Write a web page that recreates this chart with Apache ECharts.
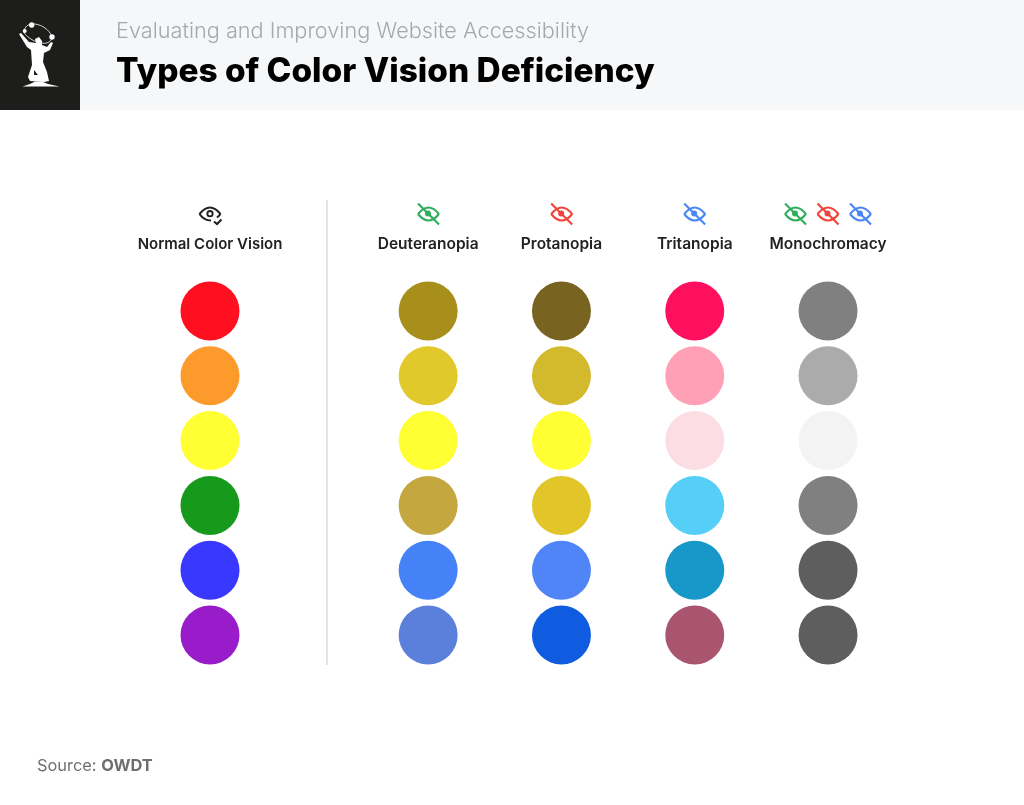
<!DOCTYPE html>
<html lang="en">
<head>
  <meta charset="UTF-8" />
  <title>Types of Color Vision Deficiency</title>
  <script src="https://cdn.jsdelivr.net/npm/echarts@6/dist/echarts.min.js"></script>
  <style>
    html, body { margin: 0; padding: 0; background: #fff; }
  </style>
</head>
<body>
  <div id="main" style="width: 1024px; height: 805px;"></div>
  <script type="text/javascript">
    // Table contents
    let normalName = ['Normal Color Vision'];
    let deficiencyNames = ['Deuteranopia', 'Protanopia', 'Tritanopia', 'Monochromacy'];
    let rowNames = ['Red', 'Orange', 'Yellow', 'Green', 'Blue', 'Purple'];

    let normalColors = ['#ff0f1f', '#fd9a2c', '#ffff33', '#17991c', '#3838ff', '#991ccb'];
    let deuteranopiaColors = ['#a88f1b', '#e2c92b', '#ffff33', '#c4a73f', '#4682f7', '#5a80dc'];
    let protanopiaColors = ['#786420', '#d2ba2c', '#ffff33', '#e2c629', '#5085f7', '#0f5ce0'];
    let tritanopiaColors = ['#ff105f', '#ffa0b6', '#fddde4', '#55cef8', '#1798c8', '#aa5570'];
    let monochromacyColors = ['#808080', '#ababab', '#f3f3f3', '#808080', '#5e5e5e', '#5e5e5e'];

    let GREEN = '#2fae5c', RED = '#f0443c', BLUE = '#4a86f5', DARK = '#222222';
    let DOT_SIZE = 59;

    function circleData(colIdx, colors) {
      return colors.map(function (c, i) {
        return { value: [colIdx, i], itemStyle: { color: c, opacity: 1 } };
      });
    }

    // one lens half, as a curve between the two eye corners
    function lid(bend, color) {
      return {
        type: 'bezierCurve',
        shape: { x1: -10.5, y1: 0, x2: 10.5, y2: 0, cpx1: 0, cpy1: bend },
        style: { fill: 'none', stroke: color, lineWidth: 2.1 }
      };
    }

    function eye(cx, cy, color, crossed) {
      let stroke = { fill: 'none', stroke: color, lineWidth: 2.1 };
      let parts = [lid(-13, color)];
      if (crossed) {
        parts.push(lid(13, color));
        parts.push({ type: 'line', shape: { x1: -10.5, y1: -10.5, x2: 10.5, y2: 10.5 }, style: stroke });
        parts.push({ type: 'circle', shape: { cx: -0.5, cy: -0.5, r: 3 }, style: { fill: color } });
      } else {
        parts.push({
          type: 'bezierCurve',
          shape: { x1: -10.5, y1: 0, x2: 1, y2: 6.5, cpx1: -6, cpy1: 6.5 },
          style: stroke
        });
        parts.push({
          type: 'bezierCurve',
          shape: { x1: 10.5, y1: 0, x2: 7, y2: 3.5, cpx1: 9.5, cpy1: 1.5 },
          style: stroke
        });
        parts.push({ type: 'polyline', shape: { points: [[4, 7.5], [7, 10], [11.5, 5.5]] }, style: stroke });
        parts.push({ type: 'ring', shape: { cx: 0, cy: -0.3, r: 3.6, r0: 1.7 }, style: { fill: color } });
      }
      return { type: 'group', x: cx, y: cy, children: parts };
    }

    let logo = {
      type: 'group',
      children: [
        { type: 'bezierCurve', shape: { x1: 24, y1: 32, x2: 52, y2: 37, cpx1: 25, cpy1: 18, cpx2: 48, cpy2: 24 },
          style: { fill: 'none', stroke: '#ffffff', lineWidth: 0.8 } },
        { type: 'bezierCurve', shape: { x1: 24, y1: 32, x2: 52, y2: 37, cpx1: 27, cpy1: 40, cpx2: 50, cpy2: 50 },
          style: { fill: 'none', stroke: '#ffffff', lineWidth: 0.8 } },
        { type: 'circle', shape: { cx: 31.7, cy: 25, r: 2.7 }, style: { fill: '#ffffff' } },
        { type: 'circle', shape: { cx: 24.7, cy: 31, r: 2 }, style: { fill: '#ffffff' } },
        { type: 'circle', shape: { cx: 52, cy: 37, r: 2.7 }, style: { fill: '#ffffff' } },
        { type: 'polygon', shape: { points: [[19, 34], [21, 33], [29, 42], [36, 43], [35, 39], [39, 37], [42, 41], [42, 45], [47, 47], [51, 42], [53, 43], [50, 50], [44, 53], [43, 62], [47, 72], [49, 81], [44, 82], [30, 81], [28, 77], [32, 65], [31, 50], [27, 47]] },
          style: { fill: '#ffffff' } },
        { type: 'polygon', shape: { points: [[34, 70], [38, 75], [34, 75]] }, style: { fill: '#1d1d1b' } },
        { type: 'polygon', shape: { points: [[22.5, 86.5], [30, 84], [35, 81.5], [42, 81.5], [48, 84], [59.5, 86.5]] }, style: { fill: '#ffffff' } }
      ]
    };

    let option = {
      animation: false,
      backgroundColor: '#ffffff',
      textStyle: { fontFamily: 'Inter' },
      title: [
        { text: 'Evaluating and Improving Website Accessibility', left: 116, top: 20, padding: 0,
          textStyle: { fontFamily: 'Inter', fontSize: 21.7, fontWeight: 300, color: '#a6a8ab' } },
        { text: 'Types of Color Vision Deficiency', left: 116, top: 55, padding: 0,
          textStyle: { fontFamily: 'Inter', fontSize: 33.4, fontWeight: 800, color: '#000000' } },
        { text: '{a|Source: }{b|OWDT}', left: 37, top: 758, padding: 0,
          textStyle: { fontWeight: 400, rich: {
            a: { fontFamily: 'Inter', fontSize: 16.4, fontWeight: 400, color: '#6f6f6f' },
            b: { fontFamily: 'Inter', fontSize: 16.4, fontWeight: 700, color: '#6f6f6f' }
          } } }
      ],
      grid: [
        { left: 145, width: 130, top: 278.6, height: 388.8 },
        { left: 361.5, width: 533.2, top: 278.6, height: 388.8 }
      ],
      xAxis: [normalName, deficiencyNames].map(function (names, i) {
        return {
          type: 'category', gridIndex: i, data: names, position: 'top',
          axisLine: { show: false }, axisTick: { show: false }, splitLine: { show: false },
          axisLabel: { interval: 0, margin: i === 0 ? 27 : 26, fontFamily: 'Inter', fontSize: i === 0 ? 15 : 15.5, fontWeight: 600, color: DARK }
        };
      }),
      yAxis: [0, 1].map(function (i) {
        return {
          type: 'category', gridIndex: i, data: rowNames, inverse: true, show: false
        };
      }),
      series: [
        { type: 'scatter', xAxisIndex: 0, yAxisIndex: 0, symbolSize: DOT_SIZE, data: circleData(0, normalColors) },
        { type: 'scatter', xAxisIndex: 1, yAxisIndex: 1, symbolSize: DOT_SIZE, data: circleData(0, deuteranopiaColors) },
        { type: 'scatter', xAxisIndex: 1, yAxisIndex: 1, symbolSize: DOT_SIZE, data: circleData(1, protanopiaColors) },
        { type: 'scatter', xAxisIndex: 1, yAxisIndex: 1, symbolSize: DOT_SIZE, data: circleData(2, tritanopiaColors) },
        { type: 'scatter', xAxisIndex: 1, yAxisIndex: 1, symbolSize: DOT_SIZE, data: circleData(3, monochromacyColors) }
      ],
      graphic: [
        { type: 'rect', z: -1, shape: { x: 0, y: 0, width: 1024, height: 110 }, style: { fill: '#f6f7f9' } },
        { type: 'rect', z: -1, shape: { x: 0, y: 0, width: 80, height: 110 }, style: { fill: '#1d1d1b' } },
        logo,
        { type: 'line', shape: { x1: 327, y1: 200, x2: 327, y2: 665 }, style: { stroke: '#d8d8d8', lineWidth: 1.4 } },
        eye(210, 214, DARK, false),
        eye(428.5, 214, GREEN, true),
        eye(561.7, 214, RED, true),
        eye(694.7, 214, BLUE, true),
        eye(795.5, 214, GREEN, true),
        eye(828, 214, RED, true),
        eye(860.5, 214, BLUE, true)
      ]
    };

    let myChart = echarts.init(document.getElementById('main'));
    myChart.setOption(option);
  </script>
</body>
</html>
